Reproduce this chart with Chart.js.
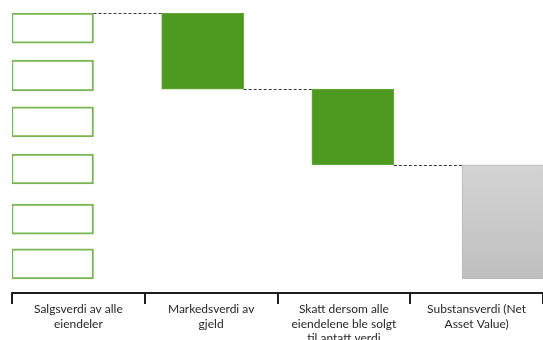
<!DOCTYPE html>
<html>
<head>
<meta charset="utf-8">
<script src="https://cdn.jsdelivr.net/npm/chart.js@4/dist/chart.umd.min.js"></script>
<style>
  html, body { margin: 0; padding: 0; background: #ffffff; }
  #wrap { width: 543px; height: 340px; }
</style>
</head>
<body>
<div id="wrap"><canvas id="c" width="543" height="340"></canvas></div>
<script>
// Category labels along the bottom axis
const kategorier = [
  ["Salgsverdi av alle", "eiendeler"],
  ["Markedsverdi av", "gjeld"],
  ["Skatt dersom alle", "eiendelene ble solgt", "til antatt verdi"],
  ["Substansverdi (Net", "Asset Value)"]
];

// Sales value of all properties, shown as separate outlined blocks (low, high)
const salgsverdiDeler = [
  [88.7, 100],
  [70.7, 82.3],
  [53.4, 64.7],
  [35.7, 47.0],
  [16.9, 28.2],
  [0, 11.3]
];

// Waterfall steps (low, high)
const gjeld = [71.4, 100];
const skatt = [42.9, 71.4];
const substansverdi = [0, 42.9];

// Bar positions on the hidden linear axis
const stolpePosisjon = [0, 1, 2, 3];

const GRONN = '#4e9a20';
const GRONN_KANT = '#79b550';

const datasets = salgsverdiDeler.map((del) => ({
  data: [{ x: stolpePosisjon[0], y: del }],
  backgroundColor: '#ffffff',
  borderColor: GRONN_KANT,
  borderWidth: 2,
  borderSkipped: false
}));

datasets.push({
  data: [{ x: stolpePosisjon[1], y: gjeld }],
  backgroundColor: GRONN,
  borderColor: '#6aab3e',
  borderWidth: 1,
  borderSkipped: false
});
datasets.push({
  data: [{ x: stolpePosisjon[2], y: skatt }],
  backgroundColor: GRONN,
  borderColor: '#6aab3e',
  borderWidth: 1,
  borderSkipped: false
});
datasets.push({
  data: [{ x: stolpePosisjon[3], y: substansverdi }],
  backgroundColor: (ctx) => {
    const chart = ctx.chart;
    if (!chart.chartArea) return '#c8c8c8';
    const ys = chart.scales.y;
    const g = chart.ctx.createLinearGradient(0, ys.getPixelForValue(substansverdi[1]), 0, ys.getPixelForValue(substansverdi[0]));
    g.addColorStop(0, '#d4d4d4');
    g.addColorStop(1, '#bfbfbf');
    return g;
  },
  borderColor: '#b9b9b9',
  borderWidth: 1,
  borderSkipped: false
});

datasets.forEach((d) => {
  d.xAxisID = 'xs';
  d.yAxisID = 'y';
  d.barThickness = 82;
  d.grouped = false;
});

// Dashed connectors between consecutive waterfall bars
const forbindelser = {
  id: 'forbindelser',
  afterDatasetsDraw(chart) {
    const ys = chart.scales.y;
    const rekkefolge = [0, salgsverdiDeler.length, salgsverdiDeler.length + 1, salgsverdiDeler.length + 2];
    const nivaaer = [
      Math.max(...salgsverdiDeler.map((d) => d[1])),
      gjeld[0],
      skatt[0]
    ];
    const c = chart.ctx;
    c.save();
    c.strokeStyle = '#3a3a3a';
    c.lineWidth = 1;
    c.setLineDash([3, 2]);
    for (let i = 0; i < nivaaer.length; i++) {
      const fra = chart.getDatasetMeta(rekkefolge[i]).data[0];
      const til = chart.getDatasetMeta(rekkefolge[i + 1]).data[0];
      const x1 = fra.x + fra.width / 2;
      const x2 = til.x - til.width / 2;
      const y = Math.round(ys.getPixelForValue(nivaaer[i])) + 0.5;
      c.beginPath();
      c.moveTo(x1, y);
      c.lineTo(x2, y);
      c.stroke();
    }
    c.restore();
  }
};

new Chart(document.getElementById('c'), {
  type: 'bar',
  data: { datasets },
  plugins: [forbindelser],
  options: {
    responsive: false,
    animation: false,
    devicePixelRatio: 1,
    layout: { padding: { top: 13, left: 12, right: 0, bottom: 0 } },
    plugins: { legend: { display: false }, tooltip: { enabled: false } },
    scales: {
      xs: {
        type: 'linear',
        display: false,
        offset: false,
        min: -0.2696,
        max: 3.266
      },
      x: {
        type: 'category',
        position: 'bottom',
        labels: kategorier,
        offset: true,
        grid: {
          offset: true,
          drawOnChartArea: false,
          drawTicks: true,
          tickLength: 11,
          color: '#1e1e1e',
          lineWidth: 2
        },
        border: { display: true, color: '#1e1e1e', width: 2 },
        ticks: {
          color: '#262626',
          padding: -2,
          maxRotation: 0,
          autoSkip: false,
          font: { family: 'Lato', size: 12, lineHeight: 1.21 }
        },
        afterFit(scale) { scale.height = 47; }
      },
      y: {
        display: false,
        min: -5.26,
        max: 100
      }
    }
  }
});
</script>
</body>
</html>
